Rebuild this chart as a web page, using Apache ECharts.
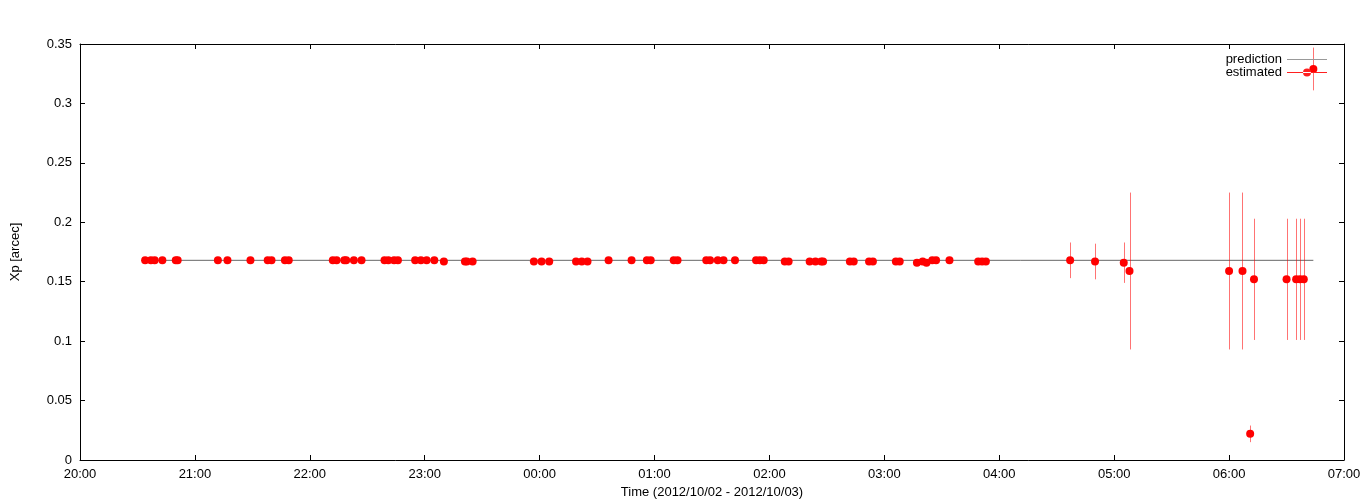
<!DOCTYPE html>
<html>
<head>
<meta charset="utf-8">
<script src="https://cdn.jsdelivr.net/npm/echarts@6/dist/echarts.min.js"></script>
<style>
html,body{margin:0;padding:0;background:#fff;}
#chart{width:1368px;height:504px;}
</style>
</head>
<body>
<div id="chart"></div>
<script>
// 数据
var times = ['20:34','20:37','20:39','20:43','20:50','20:51','21:12','21:17','21:29','21:38','21:40','21:47','21:49',
	'22:12','22:14','22:18','22:19','22:23','22:27','22:39','22:41','22:44','22:46','22:55','22:58','23:01','23:05','23:10',
	'23:21','23:22','23:25',
	'23:57','00:01','00:05','00:19','00:22','00:25','00:36','00:48','00:56','00:58','01:10','01:12','01:27','01:29','01:33',
	'01:36','01:42','01:53','01:55','01:57','02:08','02:10','02:21','02:24','02:27','02:28','02:42','02:44','02:52','02:54',
	'03:06','03:08','03:17','03:20','03:22','03:25','03:27','03:34','03:49','03:51','03:53',
	'04:37','04:50','05:05','05:08','06:00','06:07','06:11','06:13','06:30','06:35','06:37','06:39','06:44'];
var values = [0.168,0.168,0.168,0.168,0.168,0.168,0.168,0.168,0.168,0.168,0.168,0.168,0.168,
	0.168,0.168,0.168,0.168,0.168,0.168,0.168,0.168,0.168,0.168,0.168,0.168,0.168,0.168,0.167,
	0.167,0.167,0.167,
	0.167,0.167,0.167,0.167,0.167,0.167,0.168,0.168,0.168,0.168,0.168,0.168,0.168,0.168,0.168,
	0.168,0.168,0.168,0.168,0.168,0.167,0.167,0.167,0.167,0.167,0.167,0.167,0.167,0.167,0.167,
	0.167,0.167,0.166,0.167,0.166,0.168,0.168,0.168,0.167,0.167,0.167,
	0.168,0.167,0.166,0.159,0.159,0.159,0.022,0.152,0.152,0.152,0.152,0.152,0.329];
var errors = [0.002,0.002,0.002,0.002,0.002,0.002,0.002,0.002,0.002,0.002,0.002,0.002,0.002,
	0.002,0.002,0.002,0.002,0.002,0.002,0.002,0.002,0.002,0.002,0.002,0.002,0.002,0.002,0.002,
	0.002,0.002,0.002,
	0.002,0.002,0.002,0.002,0.002,0.002,0.002,0.002,0.002,0.002,0.002,0.002,0.002,0.002,0.002,
	0.002,0.002,0.002,0.002,0.002,0.002,0.002,0.002,0.002,0.002,0.002,0.002,0.002,0.002,0.002,
	0.002,0.002,0.002,0.002,0.002,0.002,0.002,0.002,0.002,0.002,0.002,
	0.015,0.015,0.017,0.066,0.066,0.066,0.007,0.051,0.051,0.051,0.051,0.051,0.018];
var predTimes = ['20:33','06:44'];
var predValues = [0.168,0.168];
var yTicks = [0,0.05,0.1,0.15,0.2,0.25,0.3,0.35];

var FONT = 'Liberation Sans';

// "HH:MM" -> 20:00 起的小时数
function toHours(t){
	var p = t.split(':');
	var h = parseInt(p[0],10) + parseInt(p[1],10)/60;
	if(h < 12){ h += 24; }
	return h - 20;
}
function hourLabel(v){
	var h = (20 + Math.round(v)) % 24;
	return (h < 10 ? '0' : '') + h + ':00';
}

var estData = [], barData = [], predData = [];
function each(arr, fn){ for(var i=0;i<arr.length;i++){ fn(i, arr[i]); } }
each(times,function(i,t){
	estData.push([toHours(t), values[i]]);
	barData.push([toHours(t), values[i], errors[i]]);
});
each(predTimes,function(i,t){
	predData.push([toHours(t), predValues[i]]);
});

var axisLine = {show:true, onZero:false, lineStyle:{color:'#000', width:1}};
var axisTick = {show:true, inside:true, length:5, lineStyle:{color:'#000', width:1}};

var myChart = echarts.init(document.getElementById('chart'));
var option = {
	animation:false,
	backgroundColor:'#fff',
	grid:{left:80, right:24, top:44, bottom:43},
	legend:[
		{
			orient:'vertical', align:'right', right:36, top:48,
			itemWidth:40, itemHeight:1, padding:5,
			icon:'rect',
			textStyle:{fontFamily:FONT, fontSize:13, color:'#000'},
			data:[{name:'prediction', itemStyle:{color:'#999'}}]
		},
		{
			orient:'vertical', align:'right', right:36, top:61,
			itemWidth:40, itemHeight:8, padding:5,
			icon:'path://M0,3.6H40V4.4H0Z M16,4a4,4 0 1,0 8,0a4,4 0 1,0 -8,0Z',
			textStyle:{fontFamily:FONT, fontSize:13, color:'#000'},
			data:[{name:'estimated', itemStyle:{color:'#ff2020'}}]
		}
	],
	xAxis:[
		{
			type:'value', min:0, max:11, interval:1,
			name:'Time (2012/10/02 - 2012/10/03)', nameLocation:'middle', nameGap:26,
			nameTextStyle:{fontFamily:FONT, fontSize:13, color:'#000'},
			axisLine:axisLine, axisTick:axisTick, splitLine:{show:false},
			axisLabel:{fontFamily:FONT, fontSize:13, color:'#000', margin:8, formatter:hourLabel}
		},
		{
			type:'value', position:'top', min:0, max:11, interval:1,
			axisLine:axisLine, axisTick:axisTick, splitLine:{show:false}, axisLabel:{show:false}
		}
	],
	yAxis:[
		{
			type:'value', min:yTicks[0], max:yTicks[yTicks.length-1], interval:0.05,
			name:'Xp [arcec]', nameLocation:'middle', nameGap:58, nameRotate:90,
			nameTextStyle:{fontFamily:FONT, fontSize:13, color:'#000'},
			axisLine:axisLine, axisTick:axisTick, splitLine:{show:false},
			axisLabel:{fontFamily:FONT, fontSize:13, color:'#000', margin:8}
		},
		{
			type:'value', position:'right', min:yTicks[0], max:yTicks[yTicks.length-1], interval:0.05,
			axisLine:axisLine, axisTick:axisTick, splitLine:{show:false}, axisLabel:{show:false}
		}
	],
	series:[
		{
			name:'prediction',
			type:'line',
			data:predData,
			symbol:'none',
			z:1,
			lineStyle:{color:'#666', width:1},
			itemStyle:{color:'#999'}
		},
		{
			name:'estimated',
			type:'custom',
			data:barData,
			encode:{x:0, y:1},
			z:2,
			itemStyle:{color:'#ff0000'},
			renderItem:function(params, api){
				var x = api.value(0), v = api.value(1), e = api.value(2);
				var p1 = api.coord([x, v + e]);
				var p2 = api.coord([x, v - e]);
				return {
					type:'line',
					shape:{x1:Math.round(p1[0])+0.5, y1:p1[1], x2:Math.round(p2[0])+0.5, y2:p2[1]},
					style:{stroke:'rgba(255,0,0,0.55)', lineWidth:1}
				};
			}
		},
		{
			name:'estimated',
			type:'scatter',
			data:estData,
			symbol:'circle',
			symbolSize:8,
			z:3,
			itemStyle:{color:'#ff0000', opacity:1}
		}
	]
};
myChart.setOption(option);
</script>
</body>
</html>
